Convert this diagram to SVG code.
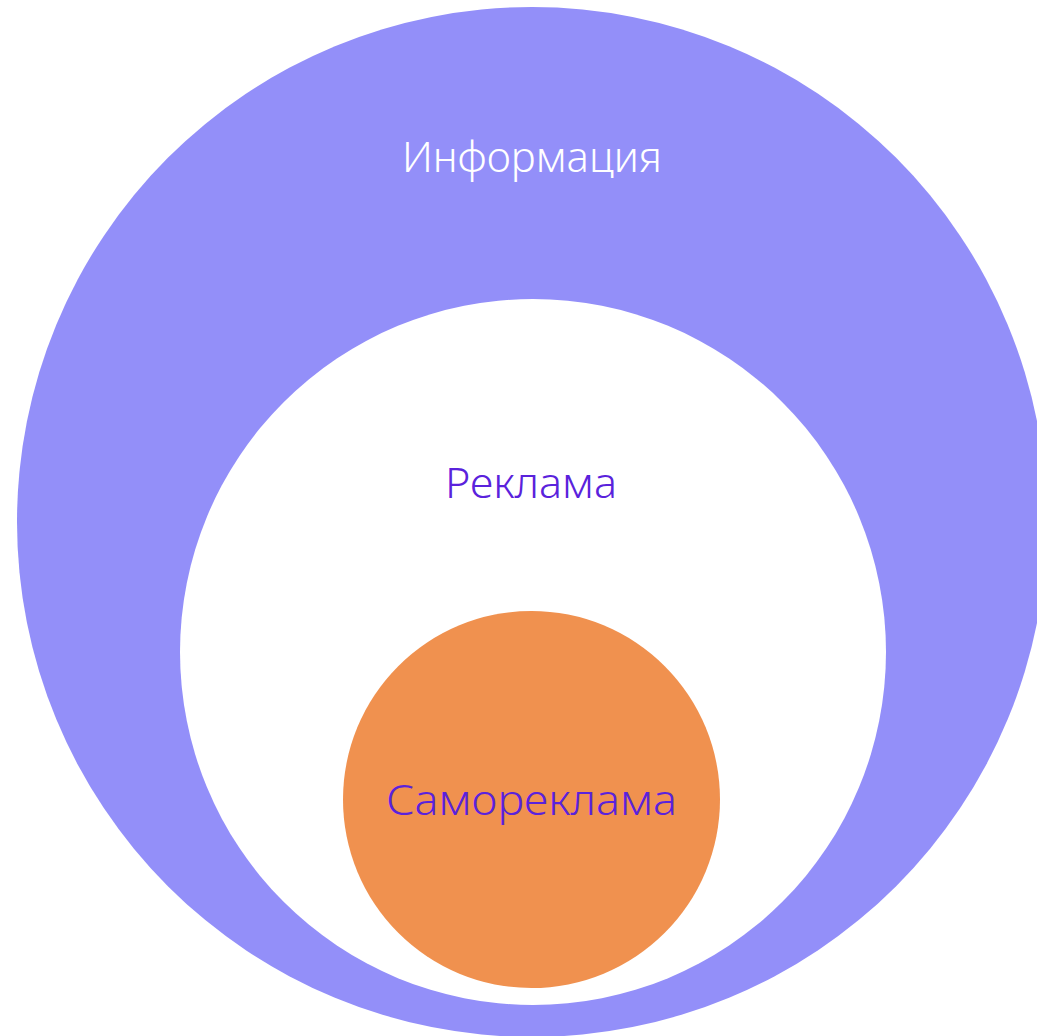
<svg xmlns="http://www.w3.org/2000/svg" width="1037" height="1036" viewBox="0 0 1037 1036">
<style>
.t{font-family:"Noto Sans","DejaVu Sans",sans-serif;font-weight:300;font-size:43px;text-anchor:middle}
</style>
<rect width="1037" height="1036" fill="#ffffff"/>
<g id="informatsiya">
<circle cx="532" cy="522" r="515" fill="#938ff9"/>
<text class="t" x="532" y="172" fill="#ffffff" textLength="260" lengthAdjust="spacingAndGlyphs">Информация</text>
</g>
<g id="reklama">
<circle cx="533" cy="652" r="353" fill="#ffffff"/>
<text class="t" x="531" y="498" fill="#5a22dc" textLength="172" lengthAdjust="spacingAndGlyphs">Реклама</text>
</g>
<g id="samoreklama">
<circle cx="531.5" cy="799.5" r="188.5" fill="#f0914f"/>
<text class="t" x="531.5" y="815" fill="#5a22dc" textLength="291" lengthAdjust="spacingAndGlyphs">Самореклама</text>
</g>
<g id="connectors"></g>
</svg>
